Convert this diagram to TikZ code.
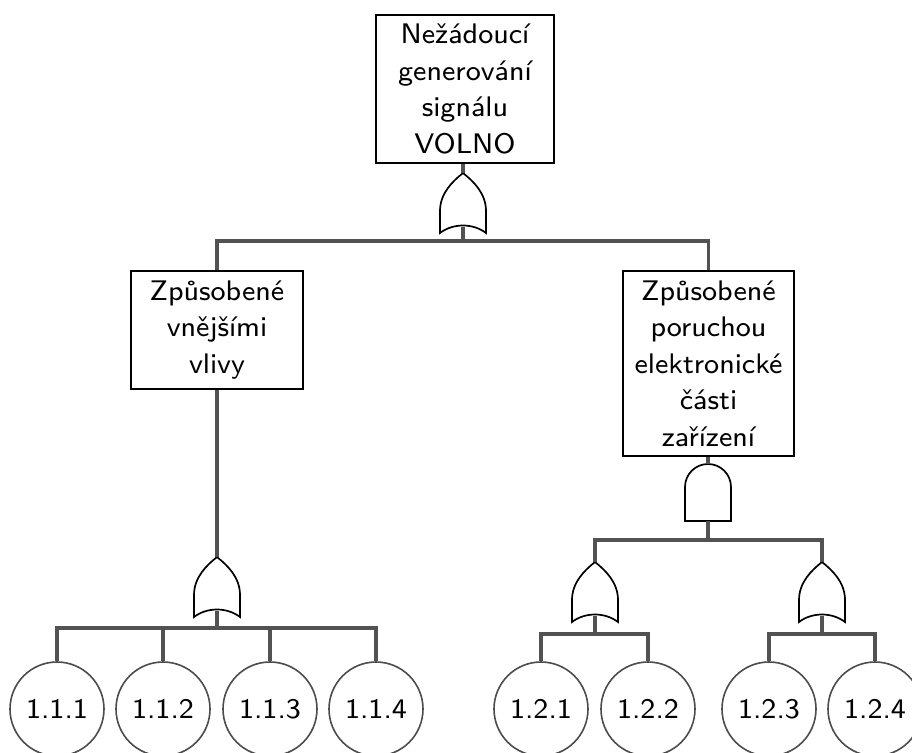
\documentclass[tikz,border=0pt]{standalone}
\usepackage{fontspec}
\newfontfamily\labelfont{lmsans8-regular.otf}
\begin{document}
\begin{tikzpicture}[x=1pt,y=-1pt,
  font=\labelfont\fontsize{28.3}{36.5}\selectfont,
  event/.style={draw=black,line width=1.8pt,align=center,inner sep=0pt},
  basic/.style={draw=black!70,line width=1.6pt,circle,minimum size=94pt,inner sep=0pt},
  wire/.style={draw=black!68,line width=3.2pt},
  gateline/.style={draw=black,line width=1.7pt,fill=white},
  orgate/.pic={
    \path[gateline] (-23,60) -- (-23,38) .. controls (-23,20) and (-10,8) .. (0,0)
      .. controls (10,8) and (23,20) .. (23,38) -- (23,60)
      .. controls (10,50) and (-10,50) .. (-23,60) -- cycle;
    \coordinate (-out) at (0,0);
    \coordinate (-in) at (0,54);
  },
  andgate/.pic={
    \path[gateline] (-23,57) -- (-23,23) arc (180:360:23) -- (23,57) -- cycle;
    \coordinate (-out) at (0,0);
    \coordinate (-in) at (0,57);
  }]
\useasboundingbox (0,0) rectangle (912,752);
\clip (0,0) rectangle (912,752);

% junction points on the bars
\coordinate (b0) at (463,241);
\coordinate (b1) at (217,628);
\coordinate (b2) at (708,540);
\coordinate (b3) at (595,634);
\coordinate (b4) at (822,634);

% events
\node[event,minimum width=178pt,minimum height=148pt] (top) at (465,89)
  {Nežádoucí\\generování\\signálu\\VOLNO};
\node[event,minimum width=172pt,minimum height=118pt] (ext) at (217,330)
  {Způsobené\\vnějšími\\vlivy};
\node[event,minimum width=171pt,minimum height=185pt] (elec) at (708.5,363.5)
  {Způsobené\\poruchou\\elektronické\\části\\zařízení};

% gates
\pic (g0) at (463,173) {orgate};
\pic (g1) at (217,557) {orgate};
\pic (g2) at (708,464) {andgate};
\pic (g3) at (595,562) {orgate};
\pic (g4) at (822,562) {orgate};

% basic events
\foreach \n/\x in {111/57,112/163,113/270,114/376,121/541,122/648,123/769,124/875}{
  \node[basic] (e\n) at (\x,709) {};
}
\node at (e111) {1.1.1};
\node at (e112) {1.1.2};
\node at (e113) {1.1.3};
\node at (e114) {1.1.4};
\node at (e121) {1.2.1};
\node at (e122) {1.2.2};
\node at (e123) {1.2.3};
\node at (e124) {1.2.4};

% connectors
\draw[wire] (top.south -| g0-out) -- (g0-out);
\draw[wire] (g0-in) -- (b0);
\draw[wire] (b0) -| (ext.north);
\draw[wire] (b0) -| (elec.north);

\draw[wire] (ext.south -| g1-out) -- (g1-out);
\draw[wire] (g1-in) -- (b1);
\foreach \c in {111,112,113,114} \draw[wire] (b1) -| (e\c.north);

\draw[wire] (elec.south -| g2-out) -- (g2-out);
\draw[wire] (g2-in) -- (b2);
\draw[wire] (b2) -| (g3-out);
\draw[wire] (b2) -| (g4-out);

\draw[wire] (g3-in) -- (b3);
\draw[wire] (b3) -| (e121.north);
\draw[wire] (b3) -| (e122.north);
\draw[wire] (g4-in) -- (b4);
\draw[wire] (b4) -| (e123.north);
\draw[wire] (b4) -| (e124.north);
\end{tikzpicture}
\end{document}
